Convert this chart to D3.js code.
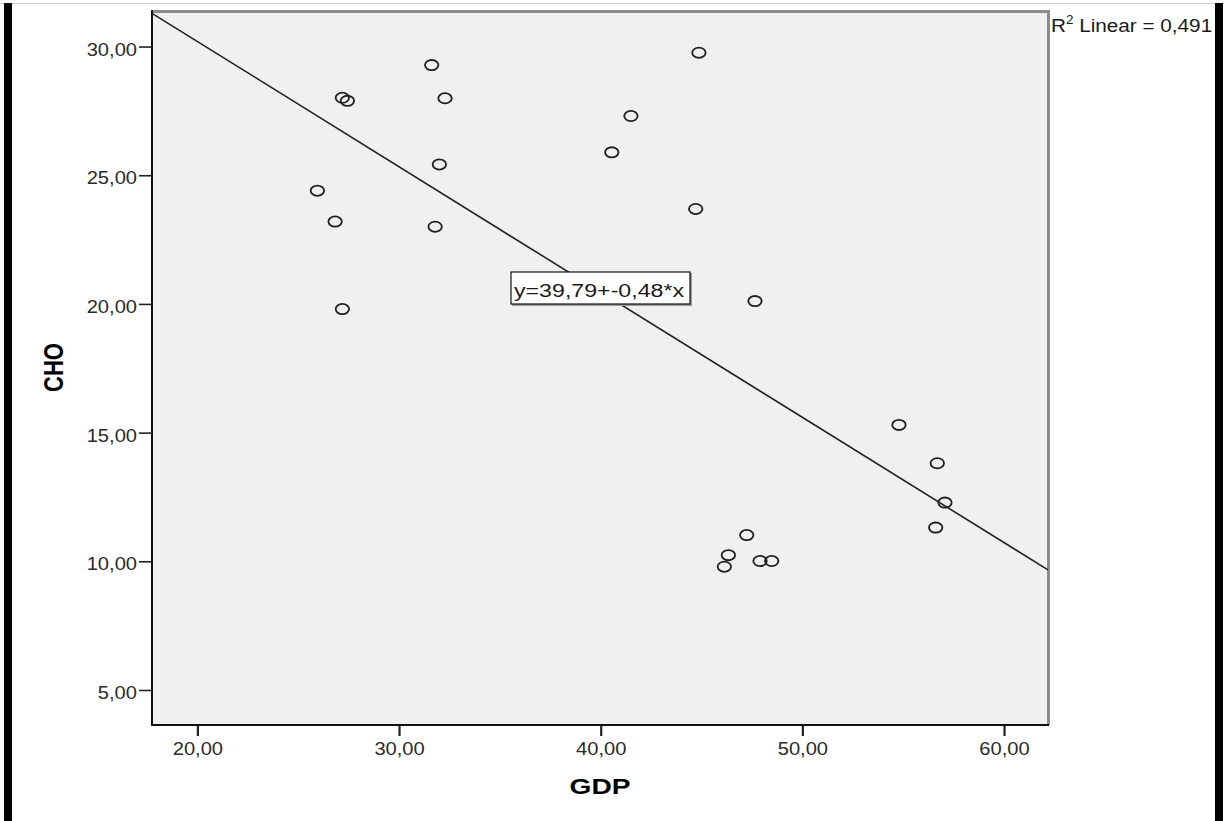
<!DOCTYPE html>
<html>
<head>
<meta charset="utf-8">
<script src="https://cdn.jsdelivr.net/npm/d3@7"></script>
<style>
  body { margin: 0; background: #fff; }
  svg { display: block; }
  .tick text { font-family: "Liberation Sans", Arial, sans-serif; fill: #2b2b2b; }
</style>
</head>
<body>
<svg id="chart" width="1224" height="821"></svg>
<script>
var gdp = [25.95, 26.83, 27.19, 27.44, 27.19, 31.62, 32.28, 32.00, 31.79, 40.55, 41.50, 44.87,
           44.71, 47.65, 54.79, 56.69, 57.07, 56.61, 47.24, 46.33, 46.13, 47.90, 48.48];
var cho = [24.40, 23.20, 28.01, 27.89, 19.80, 29.28, 27.99, 25.42, 23.00, 25.89, 27.30, 29.76,
           23.69, 20.11, 15.30, 13.81, 12.28, 11.31, 11.02, 10.24, 9.79, 10.01, 10.01];

var xTicks = [20, 30, 40, 50, 60];
var yTicks = [5, 10, 15, 20, 25, 30];
var xDomain = [17.75, 62.18];
var yDomain = [3.64, 31.42];

var eqLabel = 'y=39,79+-0,48*x';
var r2Value = '0,491';

var svg = d3.select('#chart');

// the picture is stretched sideways, so text gets a small x-scale
var SX_TICK = 1.15, SX_TITLE = 1.28, SX_EQ = 1.22, SX_R2 = 1.12;

var plot = { left: 152, top: 10, right: 1048, bottom: 725 };

var x = d3.scaleLinear().domain(xDomain).range([plot.left, plot.right]);
var y = d3.scaleLinear().domain(yDomain).range([plot.bottom, plot.top]);

var fmt = function (d) { return d.toFixed(2).replace('.', ','); };

// page decorations: thin gray top rule, black side bars
svg.append('rect').attr('x', 0).attr('y', 3).attr('width', 1224).attr('height', 1).attr('fill', '#cfcfcf');
svg.append('rect').attr('x', 4).attr('y', 3).attr('width', 8).attr('height', 818).attr('fill', '#000');
svg.append('rect').attr('x', 1215).attr('y', 3).attr('width', 8).attr('height', 818).attr('fill', '#000');

// plot background
svg.append('rect')
	.attr('x', plot.left).attr('y', plot.top)
	.attr('width', plot.right - plot.left).attr('height', plot.bottom - plot.top)
	.attr('fill', '#f0f0f0');

// frame: gray top/right, black left/bottom
svg.append('rect').attr('x', plot.left).attr('y', plot.top).attr('width', plot.right - plot.left + 2).attr('height', 3).attr('fill', '#8c8c8c');
svg.append('rect').attr('x', plot.right - 1).attr('y', plot.top).attr('width', 3).attr('height', plot.bottom - plot.top).attr('fill', '#8c8c8c');
svg.append('line').attr('x1', plot.left).attr('x2', plot.left).attr('y1', plot.top).attr('y2', plot.bottom + 1)
	.attr('stroke', '#111').attr('stroke-width', 2);
svg.append('line').attr('x1', plot.left - 1).attr('x2', plot.right + 1).attr('y1', plot.bottom).attr('y2', plot.bottom)
	.attr('stroke', '#111').attr('stroke-width', 2);

// axes
var yAxis = svg.append('g')
	.attr('transform', 'translate(' + (plot.left - 1) + ',0)')
	.call(d3.axisLeft(y).tickValues(yTicks).tickSize(12).tickFormat(fmt));
yAxis.select('.domain').remove();
yAxis.selectAll('.tick line').attr('stroke', '#222').attr('stroke-width', 1.6);
yAxis.selectAll('.tick text')
	.attr('x', null).attr('dy', null)
	.attr('font-size', 17.5)
	.attr('text-anchor', 'end')
	.attr('transform', 'translate(-14,8.5) scale(' + SX_TICK + ',1)');

var xAxis = svg.append('g')
	.attr('transform', 'translate(0,' + (plot.bottom + 1) + ')')
	.call(d3.axisBottom(x).tickValues(xTicks).tickSize(10).tickFormat(fmt));
xAxis.select('.domain').remove();
xAxis.selectAll('.tick line').attr('stroke', '#222').attr('stroke-width', 2.2);
xAxis.selectAll('.tick text')
	.attr('y', null).attr('dy', null)
	.attr('font-size', 17.5)
	.attr('text-anchor', 'middle')
	.attr('transform', 'translate(0,29) scale(' + SX_TICK + ',1)');

// axis titles
svg.append('text')
	.attr('transform', 'translate(' + ((plot.left + plot.right) / 2) + ',794) scale(' + SX_TITLE + ',1)')
	.attr('text-anchor', 'middle')
	.attr('font-family', '"Liberation Sans", Arial, sans-serif')
	.attr('font-weight', 'bold').attr('font-size', 22)
	.text('GDP');

svg.append('text')
	.attr('transform', 'translate(62.5,' + ((plot.top + plot.bottom) / 2) + ') rotate(-90) scale(1,' + SX_TITLE + ')')
	.attr('text-anchor', 'middle')
	.attr('font-family', '"Liberation Sans", Arial, sans-serif')
	.attr('font-weight', 'bold').attr('font-size', 22)
	.text('CHO');

// least squares fit through the points
var mx = d3.mean(gdp), my = d3.mean(cho);
var sxy = d3.sum(gdp, function (d, i) { return (d - mx) * (cho[i] - my); });
var sxx = d3.sum(gdp, function (d) { return (d - mx) * (d - mx); });
var slope = sxy / sxx, icpt = my - slope * mx;

svg.append('clipPath').attr('id', 'plotclip')
	.append('rect')
	.attr('x', plot.left).attr('y', plot.top)
	.attr('width', plot.right - plot.left).attr('height', plot.bottom - plot.top);

svg.append('line')
	.attr('clip-path', 'url(#plotclip)')
	.attr('x1', x(xDomain[0])).attr('y1', y(icpt + slope * xDomain[0]))
	.attr('x2', x(xDomain[1])).attr('y2', y(icpt + slope * xDomain[1]))
	.attr('stroke', '#222').attr('stroke-width', 1.6);

// points (ellipses because of the sideways stretch)
svg.append('g').selectAll('ellipse')
	.data(gdp)
	.enter().append('ellipse')
	.attr('cx', function (d) { return x(d); })
	.attr('cy', function (d, i) { return y(cho[i]); })
	.attr('rx', 6.7).attr('ry', 5.1)
	.attr('fill', 'none')
	.attr('stroke', '#1e1e1e').attr('stroke-width', 1.8);

// equation box
var eq = svg.append('g');
eq.append('rect').attr('x', 512).attr('y', 273).attr('width', 180).attr('height', 33).attr('fill', '#9a9a9a');
eq.append('rect').attr('x', 511).attr('y', 272).attr('width', 179).attr('height', 32)
	.attr('fill', '#fff').attr('stroke', '#111').attr('stroke-width', 1.2);
eq.append('text')
	.attr('transform', 'translate(514,296.5) scale(' + SX_EQ + ',1)')
	.attr('font-family', '"Liberation Sans", Arial, sans-serif')
	.attr('font-size', 19).attr('fill', '#1a1a1a')
	.text(eqLabel);

// R squared note
var r2 = svg.append('text')
	.attr('transform', 'translate(1051,32) scale(' + SX_R2 + ',1)')
	.attr('font-family', '"Liberation Sans", Arial, sans-serif')
	.attr('font-size', 18.5).attr('fill', '#1a1a1a');
r2.append('tspan').text('R');
r2.append('tspan').attr('font-size', 12).attr('dy', -8).text('2');
r2.append('tspan').attr('dy', 8).text(' Linear = ' + r2Value);
</script>
</body>
</html>
